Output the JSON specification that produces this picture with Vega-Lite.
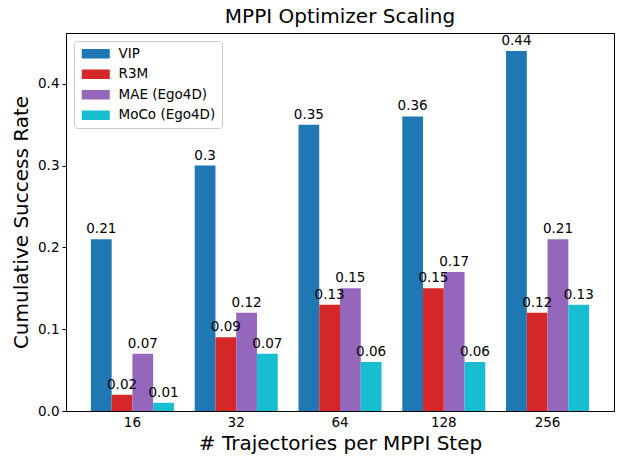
{
  "$schema": "https://vega.github.io/schema/vega-lite/v6.json",
  "width": 548,
  "height": 378,
  "autosize": {"type": "none"},
  "padding": {"left": 66, "top": 33, "right": 16, "bottom": 59},
  "background": "white",
  "config": {
    "font": "DejaVu Sans",
    "view": {"stroke": "black", "strokeWidth": 1}
  },
  "title": {"text": "MPPI Optimizer Scaling", "fontSize": 20, "fontWeight": "normal", "font": "DejaVu Sans", "offset": 6, "color": "black"},
  "data": {
    "values": [
      {"n": "16", "model": "VIP", "rate": 0.21},
      {"n": "16", "model": "R3M", "rate": 0.02},
      {"n": "16", "model": "MAE (Ego4D)", "rate": 0.07},
      {"n": "16", "model": "MoCo (Ego4D)", "rate": 0.01},
      {"n": "32", "model": "VIP", "rate": 0.3},
      {"n": "32", "model": "R3M", "rate": 0.09},
      {"n": "32", "model": "MAE (Ego4D)", "rate": 0.12},
      {"n": "32", "model": "MoCo (Ego4D)", "rate": 0.07},
      {"n": "64", "model": "VIP", "rate": 0.35},
      {"n": "64", "model": "R3M", "rate": 0.13},
      {"n": "64", "model": "MAE (Ego4D)", "rate": 0.15},
      {"n": "64", "model": "MoCo (Ego4D)", "rate": 0.06},
      {"n": "128", "model": "VIP", "rate": 0.36},
      {"n": "128", "model": "R3M", "rate": 0.15},
      {"n": "128", "model": "MAE (Ego4D)", "rate": 0.17},
      {"n": "128", "model": "MoCo (Ego4D)", "rate": 0.06},
      {"n": "256", "model": "VIP", "rate": 0.44},
      {"n": "256", "model": "R3M", "rate": 0.12},
      {"n": "256", "model": "MAE (Ego4D)", "rate": 0.21},
      {"n": "256", "model": "MoCo (Ego4D)", "rate": 0.13}
    ]
  },
  "encoding": {
    "x": {
      "field": "n", "type": "nominal", "sort": ["16", "32", "64", "128", "256"],
      "scale": {"paddingInner": 0.2, "paddingOuter": 0.24},
      "axis": {"title": "# Trajectories per MPPI Step", "titleFontSize": 20, "titleFontWeight": "normal", "titleColor": "black", "labelFontSize": 13.5, "labelColor": "black", "labelAngle": 0, "ticks": false, "labelPadding": 4, "domainColor": "black", "titlePadding": 5}
    },
    "xOffset": {"field": "model", "type": "nominal", "sort": ["VIP", "R3M", "MAE (Ego4D)", "MoCo (Ego4D)"], "scale": {"paddingInner": 0, "paddingOuter": 0}},
    "y": {
      "field": "rate", "type": "quantitative",
      "scale": {"domain": [0, 0.462], "nice": false},
      "axis": {"title": "Cumulative Success Rate", "titleFontSize": 20, "titleFontWeight": "normal", "titleColor": "black", "labelFontSize": 13.5, "labelColor": "black", "format": ".1f", "values": [0, 0.1, 0.2, 0.3, 0.4], "grid": false, "tickColor": "black", "tickSize": 4, "domainColor": "black", "titlePadding": 6, "labelPadding": 3}
    }
  },
  "layer": [
    {
      "mark": {"type": "bar"},
      "encoding": {
        "color": {
          "field": "model", "type": "nominal", "sort": ["VIP", "R3M", "MAE (Ego4D)", "MoCo (Ego4D)"],
          "scale": {"domain": ["VIP", "R3M", "MAE (Ego4D)", "MoCo (Ego4D)"], "range": ["#1f77b4", "#d62728", "#9467bd", "#17becf"]},
          "legend": {
            "title": null, "orient": "none", "legendX": 8, "legendY": 8,
            "symbolType": "M-1,-0.95H4.6V0.95H-1Z", "symbolSize": 100, "symbolStrokeWidth": 0,
            "labelFontSize": 13.5, "labelColor": "black", "rowPadding": 5.5, "labelOffset": 25,
            "padding": 6, "strokeColor": "#cccccc", "fillColor": "white", "cornerRadius": 3
          }
        }
      }
    },
    {
      "mark": {"type": "text", "baseline": "bottom", "dy": -3, "fontSize": 13.5, "color": "black"},
      "encoding": {
        "text": {"field": "rate", "type": "quantitative"}
      }
    }
  ]
}
